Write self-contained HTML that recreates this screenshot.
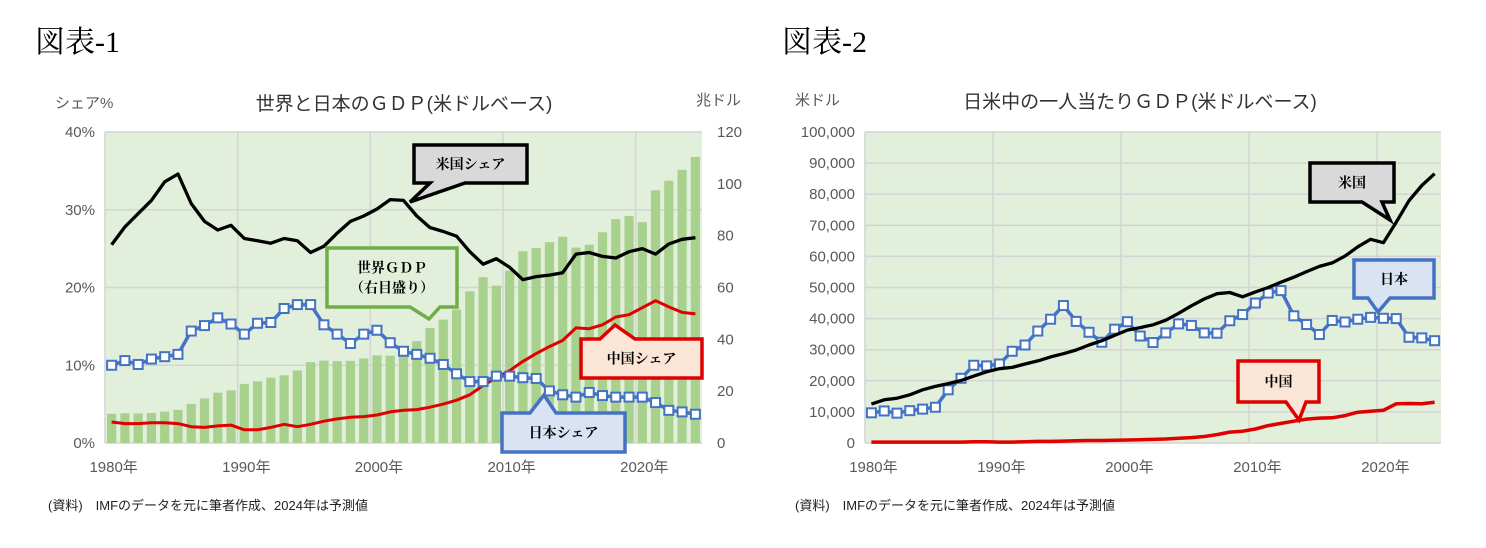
<!DOCTYPE html>
<html><head><meta charset="utf-8"><style>
html,body{margin:0;padding:0;background:#fff;}
svg{display:block;font-family:"Liberation Sans","Noto Sans CJK JP",sans-serif;}
</style></head><body>
<svg id="s" width="1486" height="548" xmlns="http://www.w3.org/2000/svg">
<rect width="1486" height="548" fill="#fff"/>
<text x="35" y="52" font-size="30" fill="#000" font-family="Liberation Serif, Noto Serif CJK SC, serif">図表-1</text>
<text x="782" y="52" font-size="30" fill="#000" font-family="Liberation Serif, Noto Serif CJK SC, serif">図表-2</text>
<text x="48" y="510" font-size="13" fill="#222">(資料)　IMFのデータを元に筆者作成、2024年は予測値</text>
<text x="795" y="510" font-size="13" fill="#222">(資料)　IMFのデータを元に筆者作成、2024年は予測値</text>
<g id="c1"></g><g id="c2"></g>
</svg>
<script>
var NS="http://www.w3.org/2000/svg";
function el(p,t,a,txt){var e=document.createElementNS(NS,t);for(var k in a)e.setAttribute(k,a[k]);if(txt!=null)e.textContent=txt;p.appendChild(e);return e;}
var us1=[25.5,27.8,29.5,31.2,33.6,34.6,30.8,28.5,27.4,28.0,26.3,26.0,25.7,26.3,26.0,24.5,25.3,27.0,28.5,29.2,30.1,31.3,31.2,29.2,27.7,27.2,26.6,24.6,23.0,23.7,22.6,21.0,21.4,21.6,21.9,24.3,24.5,24.0,23.8,24.6,25.0,24.3,25.6,26.2,26.4];
var jp1=[10.0,10.6,10.1,10.8,11.1,11.4,14.4,15.1,16.1,15.3,14.0,15.4,15.5,17.3,17.8,17.8,15.2,14.0,12.8,14.0,14.5,12.9,11.8,11.4,10.9,10.1,8.9,7.9,7.9,8.6,8.6,8.4,8.3,6.7,6.2,5.9,6.5,6.1,5.9,5.9,5.9,5.2,4.2,4.0,3.7];
var cn1=[2.7,2.5,2.5,2.6,2.6,2.5,2.1,2.0,2.2,2.3,1.7,1.7,2.0,2.4,2.1,2.4,2.8,3.1,3.3,3.4,3.6,4.0,4.2,4.3,4.6,5.0,5.5,6.2,7.4,8.4,9.3,10.5,11.5,12.4,13.2,14.8,14.7,15.2,16.2,16.5,17.4,18.3,17.5,16.8,16.6];
var w1=[11.3,11.5,11.4,11.6,12.1,12.8,15.1,17.2,19.4,20.3,22.8,23.8,25.2,26.1,28.0,31.2,31.8,31.6,31.7,32.6,33.8,33.7,35.1,39.3,44.4,47.6,51.5,58.5,64.0,60.7,66.5,74.0,75.2,77.5,79.6,75.4,76.5,81.3,86.4,87.6,85.2,97.5,101.2,105.4,110.4];
var us2=[12.5,13.9,14.4,15.5,17.1,18.2,19.1,20.1,21.5,22.9,23.9,24.3,25.4,26.4,27.7,28.7,29.9,31.5,32.9,34.6,36.3,37.1,38.0,39.5,41.7,44.1,46.3,48.0,48.4,47.0,48.6,50.0,51.7,53.3,55.1,56.8,57.9,60.1,63.1,65.5,64.4,71.0,77.9,82.8,86.6];
var jp2=[9.7,10.3,9.6,10.4,10.9,11.5,17.1,20.8,25.0,24.8,25.4,29.5,31.5,36.0,39.8,44.2,39.1,35.6,32.4,36.6,39.0,34.4,32.3,35.4,38.3,37.8,35.4,35.3,39.3,41.3,45.0,48.2,49.0,40.9,38.1,34.9,39.4,38.9,39.8,40.4,40.1,40.0,34.0,33.8,32.9];
var cn2=[0.3,0.3,0.3,0.3,0.3,0.3,0.3,0.3,0.4,0.4,0.3,0.3,0.4,0.5,0.5,0.6,0.7,0.8,0.8,0.9,0.95,1.05,1.15,1.3,1.5,1.75,2.1,2.7,3.5,3.8,4.5,5.6,6.3,7.0,7.7,8.0,8.1,8.8,9.9,10.2,10.5,12.6,12.7,12.6,13.1];
var G="#595959";
function chart(g,L,R,T,B,ymax,ticks,fmt){
  var cw=(R-L)/45;
  el(g,"rect",{x:L,y:T,width:R-L,height:B-T,fill:"#E2EFDA"});
  for(var i=0;i<ticks.length;i++){var y=B-(B-T)*ticks[i]/ymax;
    el(g,"line",{x1:L,x2:R,y1:y,y2:y,stroke:"#D4D4D4","stroke-width":1.5});
    el(g,"text",{x:L-10,y:y+5,"text-anchor":"end","font-size":15,fill:G},fmt(ticks[i]));}
  for(var k=0;k<5;k++){var x=L+cw*10*k;el(g,"line",{x1:x,x2:x,y1:T,y2:B,stroke:"#D4D4D4","stroke-width":1.5});
    el(g,"text",{x:L+cw*(10*k+0.5)+2,y:B+29,"text-anchor":"middle","font-size":15,fill:G},(1980+10*k)+"年");}
  return {x:function(i){return L+cw*(i+0.5);},y:function(v){return B-(B-T)*v/ymax;},cw:cw};
}
function line(g,sc,d,col,w){var p="";for(var i=0;i<d.length;i++)p+=(i?"L":"M")+sc.x(i).toFixed(1)+" "+sc.y(d[i]).toFixed(1);
  el(g,"path",{d:p,fill:"none",stroke:col,"stroke-width":w,"stroke-linejoin":"round"});}
function marks(g,sc,d){for(var i=0;i<d.length;i++)el(g,"rect",{x:sc.x(i)-4.5,y:sc.y(d[i])-4.5,width:9,height:9,fill:"#fff",stroke:"#4472C4","stroke-width":2});}
function callout(g,x1,y1,x2,y2,tx,ty,base1,base2,fill,stroke,lines){
  var p;
  if(ty>y2) p="M"+x1+" "+y1+"L"+x2+" "+y1+"L"+x2+" "+y2+"L"+base2+" "+y2+"L"+tx+" "+ty+"L"+base1+" "+y2+"L"+x1+" "+y2+"Z";
  else p="M"+x1+" "+y1+"L"+base1+" "+y1+"L"+tx+" "+ty+"L"+base2+" "+y1+"L"+x2+" "+y1+"L"+x2+" "+y2+"L"+x1+" "+y2+"Z";
  el(g,"path",{d:p,fill:fill,stroke:stroke,"stroke-width":3.5,"stroke-linejoin":"miter"});
  var cx=(x1+x2)/2,cy=(y1+y2)/2,n=lines.length;
  for(var i=0;i<n;i++)el(g,"text",{x:cx,y:cy+5+(i-(n-1)/2)*20,"text-anchor":"middle","font-size":14,"font-weight":"bold",fill:"#000","font-family":"Liberation Serif, Noto Serif CJK JP, serif"},lines[i]);
}
var g1=document.getElementById("c1");
var s1=chart(g1,105,702,132,443,40,[0,10,20,30,40],function(v){return v+"%";});
for(var i=0;i<45;i++){var h=(443-132)*w1[i]/120;el(g1,"rect",{x:s1.x(i)-4.6,y:443-h,width:9.2,height:h,fill:"#A9D18E"});}
[0,20,40,60,80,100,120].forEach(function(v){el(g1,"text",{x:717,y:443-(311*v/120)+5,"font-size":15,fill:G},v);});
el(g1,"text",{x:55,y:108,"font-size":15,fill:G},"シェア%");
el(g1,"text",{x:696,y:105,"font-size":15,fill:G},"兆ドル");
el(g1,"text",{x:404,y:110,"text-anchor":"middle","font-size":19,fill:"#333"},"世界と日本のＧＤＰ(米ドルベース)");
line(g1,s1,cn1,"#E00000",3);
line(g1,s1,jp1,"#4472C4",3.5);marks(g1,s1,jp1);
line(g1,s1,us1,"#000",3.3);
callout(g1,414,145,527,183,410,202,430,465,"#D9D9D9","#000",["米国シェア"]);
callout(g1,327,248,457,307,429,319,410,440,"#E2EFDA","#70AD47",["世界ＧＤＰ","（右目盛り）"]);
callout(g1,581,339,702,378,615,325,600,635,"#FBE5D6","#E00000",["中国シェア"]);
callout(g1,502,413,625,452,544,395,530,556,"#DAE3F3","#4472C4",["日本シェア"]);
var g2=document.getElementById("c2");
var s2=chart(g2,865,1441,132,443,100,[0,10,20,30,40,50,60,70,80,90,100],function(v){return v==0?"0":(v==100?"100,000":v+",000");});
el(g2,"text",{x:795,y:105,"font-size":15,fill:G},"米ドル");
el(g2,"text",{x:1140,y:108,"text-anchor":"middle","font-size":19,fill:"#333"},"日米中の一人当たりＧＤＰ(米ドルベース)");
line(g2,s2,cn2,"#E00000",3.5);
line(g2,s2,jp2,"#4472C4",3.5);marks(g2,s2,jp2);
line(g2,s2,us2,"#000",3.3);
callout(g2,1310,163,1394,202,1390,220,1362,1382,"#D9D9D9","#000",["米国"]);
callout(g2,1354,260,1434,298,1378,312,1368,1390,"#DAE3F3","#4472C4",["日本"]);
callout(g2,1238,361,1319,402,1299,420,1286,1306,"#FBE5D6","#E00000",["中国"]);
</script>
</body></html>
